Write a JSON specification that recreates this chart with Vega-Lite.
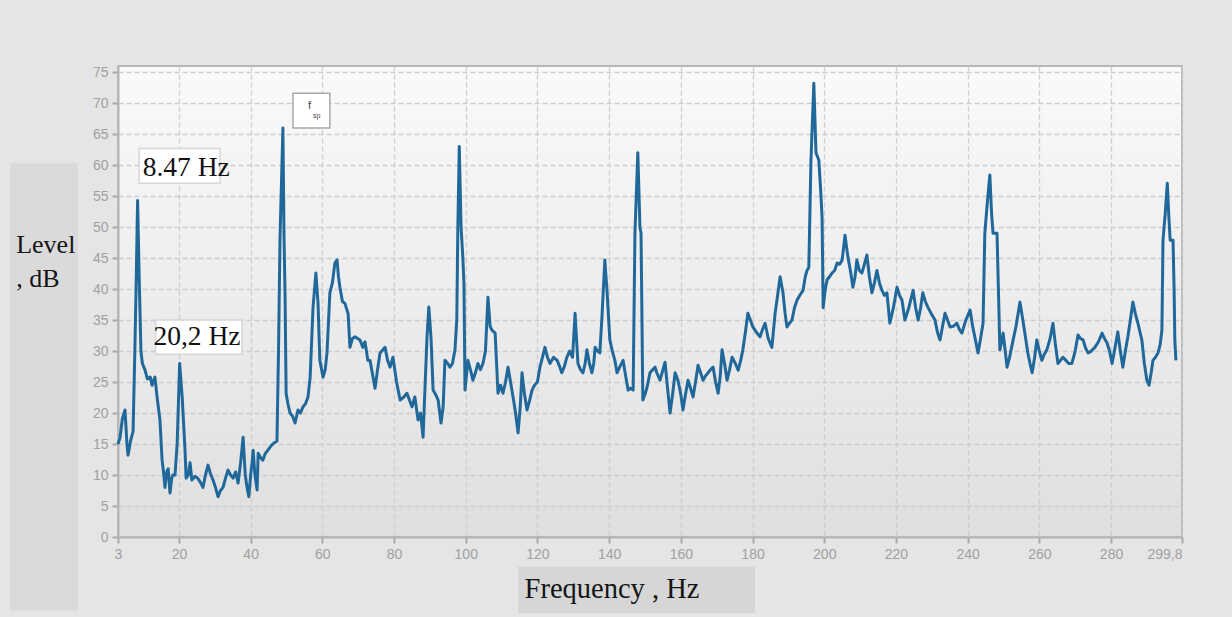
{
  "$schema": "https://vega.github.io/schema/vega-lite/v6.json",
  "width": 1064,
  "height": 471,
  "autosize": {"type": "none"},
  "padding": {"left": 118, "top": 66, "right": 50, "bottom": 80},
  "background": "#e5e5e5",
  "config": {
    "view": {
      "stroke": "#b8b8b8",
      "strokeWidth": 2,
      "fill": {"gradient": "linear", "x1": 0, "y1": 0, "x2": 0, "y2": 1, "stops": [{"offset": 0, "color": "#fafafa"}, {"offset": 1, "color": "#dfdfdf"}]}
    },
    "axis": {
      "labelFont": "Liberation Sans",
      "labelFontSize": 14,
      "labelColor": "#a0a0a0",
      "labelOverlap": false,
      "tickColor": "#a8a8a8",
      "tickSize": 6,
      "tickWidth": 2,
      "domainColor": "#b5b5b5",
      "domainWidth": 2,
      "grid": true,
      "gridColor": "#cdcdcd",
      "gridDash": [5, 3],
      "gridWidth": 1.3,
      "title": null
    }
  },
  "datasets": {
    "spectrum": [
      {"f": 3.0, "level": 15.0}, {"f": 3.56, "level": 16}, {"f": 4.2, "level": 19}, {"f": 4.95, "level": 20.5}, {"f": 5.5, "level": 15},
      {"f": 5.8, "level": 13.2}, {"f": 6.5, "level": 15.5}, {"f": 7.2, "level": 17}, {"f": 7.7, "level": 30}, {"f": 8.1, "level": 42},
      {"f": 8.47, "level": 54.3}, {"f": 8.9, "level": 42}, {"f": 9.4, "level": 30}, {"f": 9.8, "level": 28}, {"f": 10.5, "level": 27},
      {"f": 11.2, "level": 25.5}, {"f": 12, "level": 25.8}, {"f": 12.5, "level": 24.5}, {"f": 13.3, "level": 25.8}, {"f": 13.9, "level": 22.6},
      {"f": 14.7, "level": 18.9}, {"f": 15.3, "level": 12.4}, {"f": 15.8, "level": 10}, {"f": 16.1, "level": 8}, {"f": 16.6, "level": 10.5},
      {"f": 17, "level": 11}, {"f": 17.5, "level": 7.1}, {"f": 18, "level": 9.5}, {"f": 18.3, "level": 10}, {"f": 18.9, "level": 10},
      {"f": 19.5, "level": 15}, {"f": 20.2, "level": 28}, {"f": 20.9, "level": 22.6}, {"f": 21.7, "level": 14}, {"f": 22, "level": 9.5},
      {"f": 22.6, "level": 10}, {"f": 23.1, "level": 12}, {"f": 23.6, "level": 9.2}, {"f": 24.5, "level": 9.8}, {"f": 25.2, "level": 9.5},
      {"f": 25.9, "level": 8.9}, {"f": 26.7, "level": 8}, {"f": 27.4, "level": 10}, {"f": 28.1, "level": 11.6}, {"f": 28.8, "level": 10.2},
      {"f": 29.5, "level": 9.2}, {"f": 30.2, "level": 8}, {"f": 30.9, "level": 6.5}, {"f": 31.6, "level": 7.5}, {"f": 32.3, "level": 8},
      {"f": 33, "level": 9.5}, {"f": 33.7, "level": 10.8}, {"f": 34.4, "level": 10}, {"f": 35.1, "level": 9.5}, {"f": 35.8, "level": 10.5},
      {"f": 36.5, "level": 8.7}, {"f": 37.2, "level": 12}, {"f": 37.9, "level": 16.1}, {"f": 38.5, "level": 10}, {"f": 39, "level": 8},
      {"f": 39.5, "level": 6.5}, {"f": 40, "level": 10}, {"f": 40.4, "level": 12}, {"f": 40.7, "level": 14}, {"f": 41.2, "level": 10},
      {"f": 41.8, "level": 7.6}, {"f": 42.1, "level": 13.5}, {"f": 42.8, "level": 12.8}, {"f": 43.4, "level": 12.4}, {"f": 44.1, "level": 13.5},
      {"f": 44.8, "level": 14}, {"f": 45.8, "level": 14.8}, {"f": 46.8, "level": 15.3}, {"f": 47.35, "level": 15.5}, {"f": 47.8, "level": 31},
      {"f": 48.2, "level": 48.4}, {"f": 49.0, "level": 66}, {"f": 49.3, "level": 49}, {"f": 49.6, "level": 39}, {"f": 49.9, "level": 23.2},
      {"f": 50.4, "level": 21.5}, {"f": 51, "level": 20}, {"f": 51.7, "level": 19.5}, {"f": 52.4, "level": 18.4}, {"f": 53.2, "level": 20.5},
      {"f": 53.9, "level": 20}, {"f": 54.6, "level": 21}, {"f": 55.3, "level": 21.5}, {"f": 56, "level": 22.6}, {"f": 56.6, "level": 25.8},
      {"f": 57.4, "level": 37}, {"f": 58.2, "level": 42.6}, {"f": 58.8, "level": 37.7}, {"f": 59.3, "level": 28.5}, {"f": 60.2, "level": 25.8},
      {"f": 60.8, "level": 27}, {"f": 61.3, "level": 29.7}, {"f": 62.1, "level": 39.4}, {"f": 62.8, "level": 41}, {"f": 63.5, "level": 44.2},
      {"f": 64.1, "level": 44.7}, {"f": 64.5, "level": 42}, {"f": 64.9, "level": 40.3}, {"f": 65.6, "level": 38}, {"f": 66.3, "level": 37.7},
      {"f": 67.2, "level": 36}, {"f": 67.7, "level": 30.6}, {"f": 68.4, "level": 32}, {"f": 69.1, "level": 32.3}, {"f": 70.5, "level": 31.8},
      {"f": 71.3, "level": 30.6}, {"f": 71.9, "level": 31.5}, {"f": 72.7, "level": 28.5}, {"f": 73.3, "level": 28.5}, {"f": 74.7, "level": 24},
      {"f": 75.4, "level": 27}, {"f": 76.1, "level": 29.7}, {"f": 77.5, "level": 30.6}, {"f": 78.2, "level": 28.5}, {"f": 78.9, "level": 27.4},
      {"f": 79.7, "level": 29}, {"f": 80.7, "level": 25}, {"f": 81.7, "level": 22.1}, {"f": 82.6, "level": 22.5}, {"f": 83.6, "level": 23.2},
      {"f": 85, "level": 21}, {"f": 85.8, "level": 22.6}, {"f": 86.7, "level": 18.9}, {"f": 87.4, "level": 20}, {"f": 88.1, "level": 16.1},
      {"f": 88.7, "level": 25}, {"f": 89.2, "level": 32.3}, {"f": 89.7, "level": 37.1}, {"f": 90.3, "level": 32.3}, {"f": 90.9, "level": 23.7},
      {"f": 91.6, "level": 23}, {"f": 92.3, "level": 22.1}, {"f": 93.1, "level": 18.4}, {"f": 93.7, "level": 21}, {"f": 94.2, "level": 28.5},
      {"f": 95, "level": 28}, {"f": 95.6, "level": 27.4}, {"f": 96.3, "level": 28}, {"f": 97, "level": 30.2}, {"f": 97.5, "level": 35},
      {"f": 97.8, "level": 50}, {"f": 98.2, "level": 63}, {"f": 98.7, "level": 50}, {"f": 99.2, "level": 45}, {"f": 99.5, "level": 41},
      {"f": 99.8, "level": 23.7}, {"f": 100.6, "level": 28.5}, {"f": 101.3, "level": 27}, {"f": 102, "level": 25.3}, {"f": 102.7, "level": 26.5},
      {"f": 103.4, "level": 28}, {"f": 104.1, "level": 27}, {"f": 104.8, "level": 28}, {"f": 105.5, "level": 30}, {"f": 106.2, "level": 38.7},
      {"f": 106.8, "level": 34}, {"f": 107.3, "level": 33.4}, {"f": 108.2, "level": 32.9}, {"f": 109, "level": 23.2}, {"f": 109.7, "level": 24.5},
      {"f": 110.4, "level": 23.2}, {"f": 111.1, "level": 25}, {"f": 111.8, "level": 27.4}, {"f": 112.5, "level": 25}, {"f": 113.2, "level": 22.6},
      {"f": 113.9, "level": 20}, {"f": 114.6, "level": 16.8}, {"f": 115.2, "level": 21}, {"f": 115.7, "level": 26.5}, {"f": 116.4, "level": 23},
      {"f": 117.1, "level": 20.5}, {"f": 117.8, "level": 22}, {"f": 118.5, "level": 23.7}, {"f": 119.2, "level": 24.5}, {"f": 120, "level": 25},
      {"f": 120.7, "level": 27.4}, {"f": 121.4, "level": 29}, {"f": 122.1, "level": 30.6}, {"f": 122.8, "level": 29}, {"f": 123.5, "level": 28},
      {"f": 124.5, "level": 29}, {"f": 125.5, "level": 28.5}, {"f": 126.2, "level": 27.5}, {"f": 126.8, "level": 26.5}, {"f": 127.5, "level": 27.5},
      {"f": 128.2, "level": 29}, {"f": 129, "level": 30}, {"f": 129.8, "level": 29}, {"f": 130.5, "level": 36.1}, {"f": 131.3, "level": 28},
      {"f": 132, "level": 27}, {"f": 132.7, "level": 26.5}, {"f": 133.3, "level": 28}, {"f": 133.8, "level": 30.2}, {"f": 134.5, "level": 28},
      {"f": 135.2, "level": 26.5}, {"f": 135.7, "level": 28}, {"f": 136.1, "level": 30.6}, {"f": 136.8, "level": 30}, {"f": 137.4, "level": 29.7},
      {"f": 138, "level": 35.5}, {"f": 138.8, "level": 44.7}, {"f": 139.4, "level": 39.8}, {"f": 140.2, "level": 31.8}, {"f": 140.9, "level": 30},
      {"f": 141.6, "level": 28.5}, {"f": 142.2, "level": 26.5}, {"f": 143, "level": 27.5}, {"f": 143.9, "level": 28.5}, {"f": 144.6, "level": 26},
      {"f": 145.3, "level": 23.7}, {"f": 146, "level": 24}, {"f": 146.7, "level": 23.7}, {"f": 147.2, "level": 49}, {"f": 148, "level": 62},
      {"f": 148.6, "level": 50}, {"f": 148.9, "level": 49}, {"f": 149.4, "level": 22.1}, {"f": 150, "level": 23}, {"f": 150.6, "level": 24.2},
      {"f": 151.4, "level": 26.5}, {"f": 152, "level": 26.9}, {"f": 152.8, "level": 27.4}, {"f": 153.3, "level": 26.5}, {"f": 154.2, "level": 25.3},
      {"f": 155.6, "level": 28.2}, {"f": 156.3, "level": 24}, {"f": 157, "level": 20}, {"f": 157.7, "level": 23}, {"f": 158.4, "level": 26.5},
      {"f": 159.2, "level": 25.3}, {"f": 160, "level": 23}, {"f": 160.6, "level": 20.5}, {"f": 161.3, "level": 23}, {"f": 162, "level": 25.3},
      {"f": 162.7, "level": 24}, {"f": 163.4, "level": 22.6}, {"f": 164.1, "level": 25}, {"f": 164.8, "level": 27.7}, {"f": 165.5, "level": 26.5},
      {"f": 166.2, "level": 25.3}, {"f": 166.9, "level": 26}, {"f": 167.6, "level": 26.5}, {"f": 168.3, "level": 27}, {"f": 169, "level": 27.4},
      {"f": 169.7, "level": 25}, {"f": 170.4, "level": 23.2}, {"f": 171, "level": 26}, {"f": 171.5, "level": 30.2}, {"f": 172.2, "level": 28},
      {"f": 172.9, "level": 25.3}, {"f": 173.6, "level": 27}, {"f": 174.3, "level": 29}, {"f": 175.2, "level": 28}, {"f": 176, "level": 26.9},
      {"f": 176.7, "level": 28.5}, {"f": 177.3, "level": 30.2}, {"f": 178, "level": 33}, {"f": 178.7, "level": 36.1}, {"f": 179.4, "level": 35},
      {"f": 180.1, "level": 33.9}, {"f": 181.1, "level": 33}, {"f": 182.1, "level": 32.3}, {"f": 182.8, "level": 33.5}, {"f": 183.5, "level": 34.5},
      {"f": 184.4, "level": 32}, {"f": 185.4, "level": 30.6}, {"f": 186.3, "level": 36.1}, {"f": 187, "level": 39}, {"f": 187.7, "level": 42},
      {"f": 188.5, "level": 39.4}, {"f": 189.1, "level": 36}, {"f": 189.6, "level": 33.9}, {"f": 190.3, "level": 34.5}, {"f": 191, "level": 35},
      {"f": 191.7, "level": 37}, {"f": 192.4, "level": 38.2}, {"f": 193.2, "level": 39}, {"f": 194.1, "level": 39.8}, {"f": 194.7, "level": 42},
      {"f": 195.2, "level": 43}, {"f": 195.7, "level": 43.5}, {"f": 196.3, "level": 60.8}, {"f": 197.1, "level": 73.2}, {"f": 197.7, "level": 62},
      {"f": 198.5, "level": 60.8}, {"f": 199, "level": 56}, {"f": 199.4, "level": 51.6}, {"f": 199.7, "level": 37}, {"f": 200.3, "level": 40},
      {"f": 200.8, "level": 41.5}, {"f": 201.5, "level": 42}, {"f": 202.2, "level": 42.6}, {"f": 202.9, "level": 43}, {"f": 203.6, "level": 44.2},
      {"f": 204.3, "level": 44}, {"f": 205, "level": 44.7}, {"f": 205.8, "level": 48.7}, {"f": 206.6, "level": 45.2}, {"f": 207.3, "level": 43},
      {"f": 208, "level": 40.3}, {"f": 208.6, "level": 42}, {"f": 209.1, "level": 44.7}, {"f": 209.8, "level": 43}, {"f": 210.5, "level": 42.6},
      {"f": 211.2, "level": 44}, {"f": 211.9, "level": 45.5}, {"f": 212.6, "level": 42}, {"f": 213.3, "level": 39.4}, {"f": 214, "level": 41},
      {"f": 214.7, "level": 43}, {"f": 215.4, "level": 41}, {"f": 216.1, "level": 39.8}, {"f": 216.8, "level": 39}, {"f": 217.5, "level": 39.4},
      {"f": 218.3, "level": 34.5}, {"f": 219.3, "level": 37}, {"f": 220.3, "level": 40.3}, {"f": 221, "level": 39}, {"f": 221.7, "level": 38.2},
      {"f": 222.5, "level": 35}, {"f": 223.6, "level": 37}, {"f": 224.8, "level": 39.8}, {"f": 225.5, "level": 37}, {"f": 226.2, "level": 35},
      {"f": 226.9, "level": 37}, {"f": 227.5, "level": 39.4}, {"f": 228.2, "level": 38}, {"f": 228.9, "level": 37.1}, {"f": 229.9, "level": 36},
      {"f": 230.9, "level": 35}, {"f": 231.6, "level": 33}, {"f": 232.3, "level": 31.8}, {"f": 233, "level": 34}, {"f": 233.7, "level": 36.1},
      {"f": 234.4, "level": 35}, {"f": 235.1, "level": 33.9}, {"f": 236, "level": 34}, {"f": 237, "level": 34.5}, {"f": 237.7, "level": 33.5},
      {"f": 238.4, "level": 32.9}, {"f": 239.5, "level": 35}, {"f": 240.7, "level": 36.6}, {"f": 241.4, "level": 34}, {"f": 242, "level": 32.3},
      {"f": 242.9, "level": 29.7}, {"f": 243.6, "level": 32}, {"f": 244.3, "level": 34.5}, {"f": 244.8, "level": 49}, {"f": 245.5, "level": 54},
      {"f": 246.2, "level": 58.4}, {"f": 246.7, "level": 52}, {"f": 247.1, "level": 49}, {"f": 248.2, "level": 49}, {"f": 248.5, "level": 42},
      {"f": 249, "level": 30.2}, {"f": 249.5, "level": 31.5}, {"f": 249.9, "level": 32.9}, {"f": 250.5, "level": 30}, {"f": 251, "level": 27.4},
      {"f": 251.7, "level": 29}, {"f": 252.7, "level": 31.8}, {"f": 253.5, "level": 34}, {"f": 254.6, "level": 37.9}, {"f": 255.4, "level": 35},
      {"f": 256.2, "level": 32}, {"f": 256.8, "level": 29.7}, {"f": 257.4, "level": 28}, {"f": 258, "level": 26.5}, {"f": 258.7, "level": 29},
      {"f": 259.3, "level": 31.8}, {"f": 260, "level": 30}, {"f": 260.7, "level": 28.5}, {"f": 261.4, "level": 29.5}, {"f": 262.1, "level": 30.2},
      {"f": 263, "level": 32}, {"f": 263.8, "level": 34.5}, {"f": 264.5, "level": 31}, {"f": 265.2, "level": 28}, {"f": 265.9, "level": 28.5},
      {"f": 266.6, "level": 29}, {"f": 267.4, "level": 28.5}, {"f": 268.2, "level": 28}, {"f": 269.1, "level": 28}, {"f": 270, "level": 30},
      {"f": 270.8, "level": 32.6}, {"f": 271.5, "level": 32}, {"f": 272.2, "level": 31.8}, {"f": 272.9, "level": 30.5}, {"f": 273.6, "level": 29.7},
      {"f": 274.5, "level": 30}, {"f": 275.5, "level": 30.6}, {"f": 276.5, "level": 31.5}, {"f": 277.5, "level": 32.9}, {"f": 278.2, "level": 32},
      {"f": 278.9, "level": 31.3}, {"f": 279.6, "level": 30}, {"f": 280.3, "level": 28}, {"f": 281.1, "level": 30.5}, {"f": 281.9, "level": 33.1},
      {"f": 282.6, "level": 30}, {"f": 283.3, "level": 27.4}, {"f": 284, "level": 30}, {"f": 284.7, "level": 32.3}, {"f": 285.4, "level": 35},
      {"f": 286.1, "level": 37.9}, {"f": 286.8, "level": 36}, {"f": 287.5, "level": 34.5}, {"f": 288.1, "level": 33}, {"f": 288.6, "level": 31.8},
      {"f": 289.3, "level": 28}, {"f": 290, "level": 25.3}, {"f": 290.6, "level": 24.5}, {"f": 291.2, "level": 26.5}, {"f": 291.7, "level": 28.5},
      {"f": 292.4, "level": 29}, {"f": 293.1, "level": 29.7}, {"f": 293.7, "level": 31}, {"f": 294.2, "level": 33.4}, {"f": 294.5, "level": 47.9},
      {"f": 295.1, "level": 52}, {"f": 295.7, "level": 57.1}, {"f": 296.1, "level": 52}, {"f": 296.5, "level": 47.9}, {"f": 297.3, "level": 47.9},
      {"f": 297.6, "level": 39.8}, {"f": 297.8, "level": 31.8}, {"f": 298.1, "level": 28.5}
    ],
    "panels": [
      {"x": -27.1, "x2": -8.2, "y": -11.8, "y2": 60.3, "fill": "#dadada"},
      {"x": 114.6, "x2": 180.7, "y": -12.3, "y2": -4.8, "fill": "#d6d6d6"}
    ],
    "boxes": [
      {"x": 8.9, "x2": 31.5, "y": 57.1, "y2": 62.7, "stroke": "#d6d6d6"},
      {"x": 13.5, "x2": 37.6, "y": 29.5, "y2": 35.0, "stroke": "#d6d6d6"},
      {"x": 51.8, "x2": 62.1, "y": 66.0, "y2": 71.6, "stroke": "#a9a9a9"}
    ],
    "labels": [
      {"x": 9.9, "y": 59.5, "text": "8.47 Hz"},
      {"x": 12.9, "y": 32.3, "text": "20,2 Hz"}
    ],
    "ytitle": [
      {"x": -25.4, "y": 45.8, "text": "Level"},
      {"x": -25.4, "y": 40.3, "text": ", dB"}
    ],
    "xtitle": [
      {"x": 140.8, "y": -9.8, "text": "Frequency , Hz"}
    ]
  },
  "layer": [
    {
      "data": {"name": "spectrum"},
      "mark": {"type": "line", "color": "#21689a", "strokeWidth": 3, "strokeJoin": "round"},
      "encoding": {
        "x": {
          "field": "f", "type": "quantitative",
          "scale": {"domain": [3, 299.8], "nice": false, "zero": false},
          "axis": {
            "values": [3, 20, 40, 60, 80, 100, 120, 140, 160, 180, 200, 220, 240, 260, 280, 299.8],
            "labelExpr": "datum.value > 299 ? '299,8' : format(datum.value, 'd')",
            "labelAlign": {"expr": "datum.value > 299 ? 'right' : 'center'"},
            "labelOverlap": false,
            "labelPadding": 4
          }
        },
        "y": {
          "field": "level", "type": "quantitative",
          "scale": {"domain": [0, 76], "nice": false},
          "axis": {
            "values": [0, 5, 10, 15, 20, 25, 30, 35, 40, 45, 50, 55, 60, 65, 70, 75],
            "tickCount": 16,
            "labelExpr": "format(datum.value, 'd')",
            "labelOverlap": false,
            "labelBound": false,
            "labelPadding": 4
          }
        }
      }
    },
    {
      "data": {"name": "panels"},
      "mark": {"type": "rect"},
      "encoding": {
        "x": {"field": "x", "type": "quantitative"},
        "x2": {"field": "x2"},
        "y": {"field": "y", "type": "quantitative"},
        "y2": {"field": "y2"},
        "fill": {"field": "fill", "type": "nominal", "scale": null}
      }
    },
    {
      "data": {"name": "boxes"},
      "mark": {"type": "rect", "fill": "#ffffff", "strokeWidth": 1.5},
      "encoding": {
        "x": {"field": "x", "type": "quantitative"},
        "x2": {"field": "x2"},
        "y": {"field": "y", "type": "quantitative"},
        "y2": {"field": "y2"},
        "stroke": {"field": "stroke", "type": "nominal", "scale": null}
      }
    },
    {
      "data": {"name": "labels"},
      "mark": {"type": "text", "font": "Liberation Serif", "fontSize": 27.5, "align": "left", "baseline": "middle", "color": "#111111"},
      "encoding": {
        "x": {"field": "x", "type": "quantitative"},
        "y": {"field": "y", "type": "quantitative"},
        "text": {"field": "text"}
      }
    },
    {
      "data": {"name": "ytitle"},
      "mark": {"type": "text", "font": "Liberation Serif", "fontSize": 26, "align": "left", "baseline": "alphabetic", "color": "#151515"},
      "encoding": {
        "x": {"field": "x", "type": "quantitative"},
        "y": {"field": "y", "type": "quantitative"},
        "text": {"field": "text"}
      }
    },
    {
      "data": {"name": "xtitle"},
      "mark": {"type": "text", "font": "Liberation Serif", "fontSize": 28.5, "align": "center", "baseline": "alphabetic", "color": "#151515"},
      "encoding": {
        "x": {"field": "x", "type": "quantitative"},
        "y": {"field": "y", "type": "quantitative"},
        "text": {"field": "text"}
      }
    },
    {
      "data": {"values": [{"x": 56.0, "y": 69.6, "text": "f", "size": 11}, {"x": 57.4, "y": 68.0, "text": "sp", "size": 7}]},
      "mark": {"type": "text", "font": "Liberation Sans", "align": "left", "baseline": "middle", "color": "#4a4a4a"},
      "encoding": {
        "x": {"field": "x", "type": "quantitative"},
        "y": {"field": "y", "type": "quantitative"},
        "text": {"field": "text"},
        "size": {"field": "size", "type": "quantitative", "scale": null}
      }
    }
  ]
}
